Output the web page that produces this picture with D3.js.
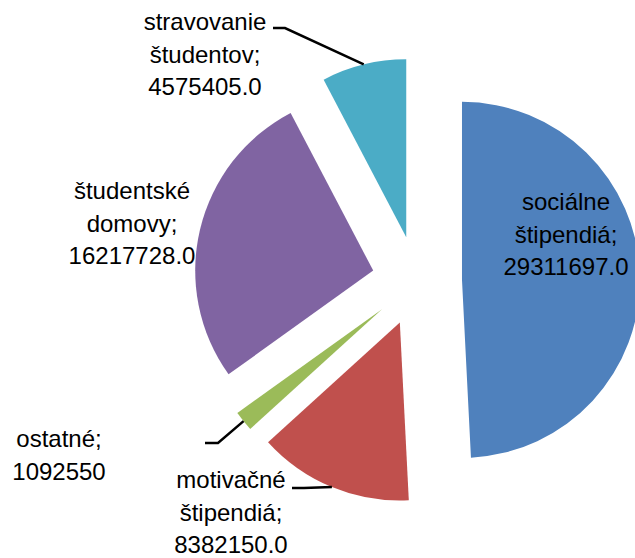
<!DOCTYPE html>
<meta charset="utf-8">
<head>
    <title>Pie</title>
    <script src="https://d3js.org/d3.v7.min.js"></script>
</head>
<style>
body {
    margin: 0;
    background: #fff;
}

.label {
    font-family: 'Liberation Sans', Arial, sans-serif;
    font-size: 24px;
    fill: #000;
}

.leader {
    fill: none;
    stroke: #000;
    stroke-width: 2.5;
}
</style>
<body>
<svg width="635" height="558"></svg>
<script>

// hodnoty z grafu
const categories = ['sociálne štipendiá', 'motivačné štipendiá', 'ostatné', 'študentské domovy', 'stravovanie študentov'];
const values = [29311697.0, 8382150.0, 1092550, 16217728.0, 4575405.0];
const valueLabels = ['29311697.0', '8382150.0', '1092550', '16217728.0', '4575405.0'];
const labelLines = [
    ['sociálne', 'štipendiá;'],
    ['motivačné', 'štipendiá;'],
    ['ostatné;'],
    ['študentské', 'domovy;'],
    ['stravovanie', 'študentov;']
];
const colors = ['#4f81bd', '#c0504d', '#9bbb59', '#8064a2', '#4bacc6'];

const svg = d3.select('svg'),
    width = +svg.attr('width'),
    height = +svg.attr('height');

const cx = 417, cy = 281,
    radius = 178,
    explode = 45,
    lineH = 32.5;

// umiestnenie popisov (stred textu, prvý riadok) a začiatok vodiacej čiary
const labelLayout = [
    {x: 566, y: 210, leader: null},
    {x: 231, y: 488, leader: [[292, 488], [304, 488]]},
    {x: 59, y: 447, leader: [[205, 443], [218, 443]]},
    {x: 132, y: 199, leader: null},
    {x: 205, y: 30, leader: [[273, 28], [285, 28]]}
];

const pie = d3.pie().sort(null).value(d => d);
const arc = d3.arc().innerRadius(0).outerRadius(radius);

const arcs = pie(values);

function offset(d, r) {
    const a = (d.startAngle + d.endAngle) / 2;
    return [Math.sin(a) * r, -Math.cos(a) * r];
}

const g = svg.append('g')
    .attr('transform', `translate(${cx},${cy})`);

g.selectAll('path')
    .data(arcs)
    .enter()
    .append('path')
    .attr('d', arc)
    .attr('fill', (d, i) => colors[i])
    .attr('transform', d => {
        const o = offset(d, explode);
        return `translate(${o[0]},${o[1]})`;
    });

// vodiace čiary
arcs.forEach((d, i) => {
    const l = labelLayout[i];
    if (!l.leader) return;
    const o = offset(d, explode + radius);
    const pts = l.leader.concat([[cx + o[0], cy + o[1]]]);
    svg.append('path')
        .attr('class', 'leader')
        .attr('d', d3.line()(pts));
});

// popisy
arcs.forEach((d, i) => {
    const l = labelLayout[i];
    const lines = labelLines[i].concat([valueLabels[i]]);
    const t = svg.append('text')
        .attr('class', 'label')
        .attr('text-anchor', 'middle');
    lines.forEach((s, k) => {
        t.append('tspan')
            .attr('x', l.x)
            .attr('y', l.y + k * lineH)
            .text(s);
    });
});

</script>
</body>
